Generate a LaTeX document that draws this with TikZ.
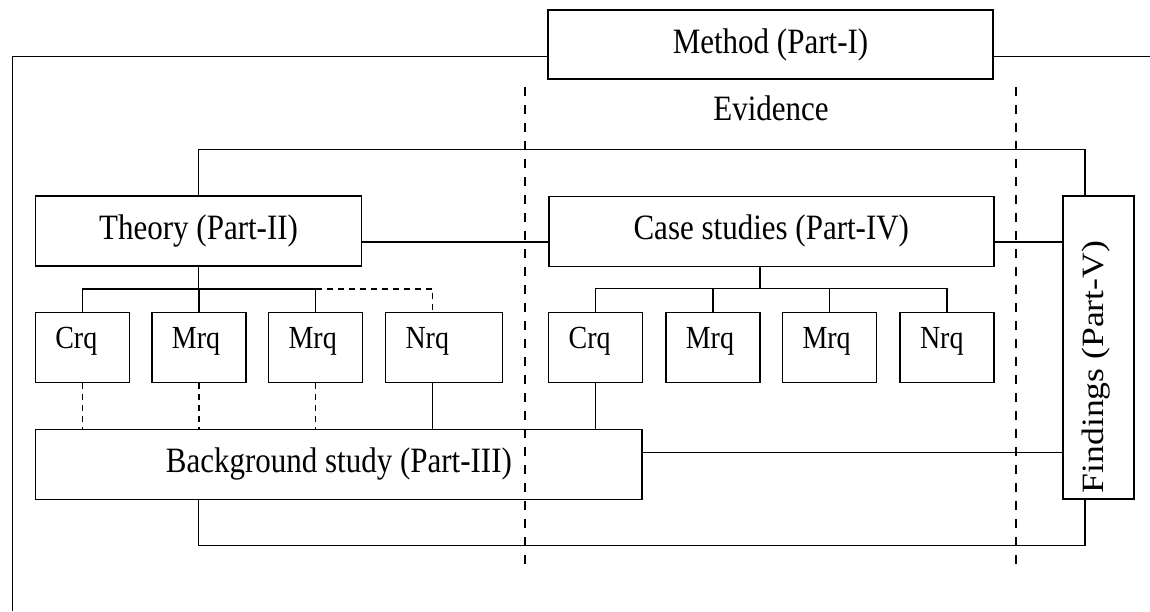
\documentclass[tikz,border=0pt]{standalone}
\usepackage{fontspec}
\usepackage{graphicx}
\setmainfont{Liberation Serif}
\usetikzlibrary{calc}
% lettering in this chart is set a little taller than wide
\newcommand{\tallset}[1]{\scalebox{1}[1.15]{#1}}
\newcommand{\longset}[1]{\scalebox{1.15}[1]{#1}}

\begin{document}
\begin{tikzpicture}[x=1pt,y=-1pt,
  box/.style={draw, line width=1.5pt, inner sep=0pt},
  bigtext/.style={font=\fontsize{31}{37}\selectfont},
  qbox/.style={box, minimum height=70pt, align=left, inner xsep=20pt,
    text width=#1, text height=0.8em, text depth=0.6em,
    font=\fontsize{28}{34}\selectfont},
  qbox/.default=54pt,
  link/.style={line width=1.5pt},
  frame/.style={line width=1.2pt},
  weak/.style={line width=1.2pt, dash pattern=on 6pt off 5pt},
  divider/.style={line width=1.5pt, dash pattern=on 9pt off 9pt},
]
\useasboundingbox (0,0) rectangle (1150,611);

% main parts
\node[box, bigtext, minimum width=445pt, minimum height=69pt] (method) at (770.5,44.7) {\tallset{Method (Part-I)}};
\node[bigtext] (evidence) at (771,108.5) {\tallset{Evidence}};
\node[box, bigtext, minimum width=326pt, minimum height=70pt] (theory) at (198.6,231) {\tallset{Theory (Part-II)}};
\node[box, bigtext, minimum width=445pt, minimum height=70pt] (case) at (771.3,231.3) {\tallset{Case studies (Part-IV)}};
\node[box, minimum width=71pt, minimum height=303pt] (findings) at (1098.5,347.6) {};
\node[bigtext, rotate=90] (findingslabel) at (1096,367) {\longset{Findings (Part-V)}};
\node[box, bigtext, minimum width=606.6pt, minimum height=70pt] (background) at (338.9,464.3) {\tallset{Background study (Part-III)}};

% research questions under theory
\node[qbox] (lc) at (82.3,347.7) {\tallset{Crq}};
\node[qbox] (lm1) at (198.9,347.7) {\tallset{Mrq}};
\node[qbox] (lm2) at (315.6,347.7) {\tallset{Mrq}};
\node[qbox=77pt] (ln) at (444,347.7) {\tallset{Nrq}};

% research questions under case studies
\node[qbox] (rc) at (595.6,347.7) {\tallset{Crq}};
\node[qbox] (rm1) at (712.8,347.7) {\tallset{Mrq}};
\node[qbox] (rm2) at (829.5,347.7) {\tallset{Mrq}};
\node[qbox] (rn) at (947,347.7) {\tallset{Nrq}};

% helper coordinates
\coordinate (frameL) at (12.6,56.7);
\coordinate (frameB) at (12.6,611);
\coordinate (frameR) at (1150,56.7);
\coordinate (sepAtop) at (525,87);
\coordinate (sepAbot) at (525,568);
\coordinate (sepBtop) at (1016,87);
\coordinate (sepBbot) at (1016,568);
\coordinate (topY) at (0,149.7);
\coordinate (loopX) at (1085,0);
\coordinate (midY) at (0,242);
\coordinate (lbusY) at (0,289);
\coordinate (rbusY) at (0,288.7);
\coordinate (lnX) at (432.4,0);
\coordinate (caseX) at (760,0);
\coordinate (lowY) at (0,452.3);
\coordinate (botY) at (0,545.7);

% outer frame hanging from the method box
\draw[frame] (method.west |- frameL) -- (frameL) -- (frameB);
\draw[frame] (method.east |- frameR) -- (frameR);

% evidence zone
\draw[divider] (sepAtop) -- (sepAbot);
\draw[divider] (sepBtop) -- (sepBbot);

% loop over the top: theory to findings
\draw[link] (theory.north) -- (theory.north |- topY) -| (loopX |- findings.north);

% middle row
\draw[link] (theory.east |- midY) -- (case.west |- midY);
\draw[link] (case.east |- midY) -- (findings.west |- midY);

% theory tree
\draw[link] (theory.south) -- (theory.south |- lbusY);
\draw[link] (lc.north) |- (lm2.north |- lbusY) -- (lm2.north);
\draw[link] (lm1.north) -- (lm1.north |- lbusY);
\draw[weak] (lm2.north |- lbusY) -| (lnX |- ln.north);

% case studies tree
\draw[link] (caseX |- case.south) -- (caseX |- rbusY);
\draw[link] (rc.north) |- (rn.north |- rbusY) -- (rn.north);
\draw[link] (rm1.north) -- (rm1.north |- rbusY);
\draw[link] (rm2.north) -- (rm2.north |- rbusY);

% links down to the background study
\draw[weak] (lc.south) -- (lc.south |- background.north);
\draw[weak] (lm1.south) -- (lm1.south |- background.north);
\draw[weak] (lm2.south) -- (lm2.south |- background.north);
\draw[link] (lnX |- ln.south) -- (lnX |- background.north);
\draw[link] (rc.south) -- (rc.south |- background.north);

% background study to findings
\draw[link] (background.east |- lowY) -- (findings.west |- lowY);
\draw[link] (theory.north |- background.south) -- (theory.north |- botY) -| (loopX |- findings.south);
\end{tikzpicture}
\end{document}
